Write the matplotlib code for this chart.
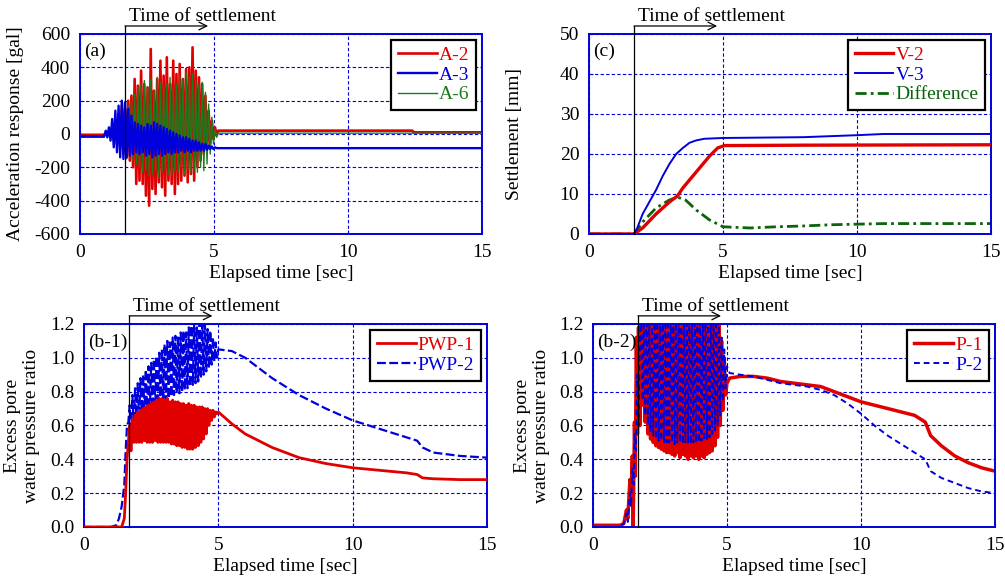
"""
plot.py

Shaking table test: acceleration, settlement and excess pore water pressure.
"""

import numpy as np
import matplotlib
matplotlib.use("Agg")
import matplotlib.pyplot as plt

plt.rcParams["font.family"] = ["Liberation Serif", "DejaVu Serif"]
plt.rcParams["axes.unicode_minus"] = False
plt.rcParams["font.size"] = 14

RED = "#e00000"
BLUE = "#0000dd"
GREEN = "#1c7a1c"
DKGREEN = "#0b640b"

T_SETTLE = 1.68
T_ARROW = 4.78

# ==========================================================
# Data
# ==========================================================

# --- (a) acceleration response [gal], peaks per cycle ---
a_cyc_t = [0.96, 1.08, 1.20, 1.32, 1.44, 1.56, 1.68, 1.80, 1.92, 2.04,
           2.16, 2.28, 2.40, 2.52, 2.64, 2.76, 2.88, 3.00, 3.12, 3.24,
           3.36, 3.48, 3.60, 3.72, 3.84, 3.96, 4.08, 4.20, 4.32, 4.44,
           4.56, 4.68, 4.80, 4.92, 5.04]

a2_hi = [5, 15, 30, 60, 120, 170, 150, 200, 230, 330,
         290, 380, 300, 280, 510, 260, 330, 440, 350, 460,
         300, 440, 360, 420, 330, 390, 400, 520, 380, 340,
         300, 230, 140, 80, 40]
a2_lo = [-5, -15, -30, -60, -90, -120, -140, -160, -200, -300,
         -280, -300, -370, -430, -330, -360, -290, -320, -370, -280,
         -300, -360, -300, -280, -250, -290, -240, -280, -200, -160,
         -120, -90, -60, -30, -10]

a3_hi = [20, 40, 90, 140, 170, 200, 190, 150, 110, 70,
         60, 50, 40, 60, 50, 70, 60, 50, 40, 30,
         20, 10, 0, -10, -20, -20, -30, -40, -40, -50,
         -60, -60, -70, -75, -80]
a3_lo = [-20, -40, -80, -110, -140, -150, -140, -130, -120, -110,
         -120, -110, -130, -120, -140, -130, -120, -130, -120, -110,
         -120, -110, -110, -100, -110, -100, -110, -100, -100, -100,
         -100, -95, -90, -90, -85]

a6_hi = [5, 20, 40, 70, 100, 130, 150, 170, 200, 240,
         280, 300, 320, 280, 330, 250, 340, 310, 280, 300,
         340, 270, 300, 350, 330, 370, 340, 360, 320, 300,
         310, 250, 180, 100, 30]
a6_lo = [-5, -20, -40, -70, -100, -130, -150, -140, -160, -180,
         -200, -230, -220, -250, -240, -220, -260, -230, -210, -240,
         -250, -220, -230, -200, -240, -210, -230, -220, -230, -200,
         -220, -180, -120, -60, -20]

a_head_t = [0.0, 0.9]
a2_head = [-5, -5]
a3_head = [-15, -15]
a6_head = [-20, -20]

a2_tail_t = [5.15, 12.4, 12.45, 15.0]
a2_tail = [20, 20, 10, 10]
a3_tail_t = [5.15, 15.0]
a3_tail = [-85, -85]
a6_tail_t = [5.15, 15.0]
a6_tail = [5, 5]

# --- (c) settlement [mm] ---
v2_t = [0, 1.68, 2.0, 2.5, 3.0, 3.3, 3.5, 4.0, 4.5, 4.8, 5.05, 8.0, 15.0]
v2_v = [0, 0, 1.5, 5.0, 8.0, 9.5, 11.5, 15.5, 19.5, 21.5, 22.1, 22.2, 22.3]

v3_t = [0, 1.68, 1.8, 2.0, 2.25, 2.5, 2.75, 3.0, 3.25, 3.5, 3.75, 4.0,
        4.3, 5.0, 8.0, 10.0, 11.0, 15.0]
v3_v = [0, 0, 1.5, 5.0, 8.0, 11.0, 14.5, 17.5, 20.0, 21.5, 22.8, 23.4,
        23.8, 24.0, 24.2, 24.7, 25.0, 25.0]

diff_t = [0, 1.68, 2.0, 2.5, 3.0, 3.3, 3.6, 4.0, 4.5, 5.0, 6.0, 7.0,
          8.0, 9.0, 11.0, 15.0]
diff_v = [0, 0, 3.0, 6.5, 8.5, 9.2, 8.5, 6.0, 3.5, 1.8, 1.5, 1.8,
          2.0, 2.3, 2.6, 2.6]

# --- (b-1) excess pore water pressure ratio ---
b1_cyc_t = [1.7, 1.8, 1.9, 2.0, 2.1, 2.2, 2.3, 2.4, 2.5, 2.6,
            2.7, 2.8, 2.9, 3.0, 3.1, 3.2, 3.3, 3.4, 3.5, 3.6,
            3.7, 3.8, 3.9, 4.0, 4.1, 4.2, 4.3, 4.4, 4.5, 4.6,
            4.7, 4.8, 4.9]

pwp1_hi = [0.60, 0.64, 0.66, 0.68, 0.69, 0.70, 0.71, 0.72, 0.73, 0.74,
           0.75, 0.76, 0.76, 0.75, 0.76, 0.74, 0.75, 0.74, 0.74, 0.73,
           0.73, 0.72, 0.73, 0.72, 0.72, 0.71, 0.71, 0.71, 0.70, 0.70,
           0.69, 0.69, 0.68]
pwp1_lo = [0.45, 0.50, 0.50, 0.50, 0.50, 0.51, 0.50, 0.50, 0.50, 0.51,
           0.50, 0.50, 0.50, 0.50, 0.50, 0.49, 0.49, 0.48, 0.48, 0.47,
           0.47, 0.46, 0.46, 0.46, 0.47, 0.48, 0.50, 0.52, 0.55, 0.60,
           0.63, 0.65, 0.67]

pwp2_hi = [0.72, 0.78, 0.82, 0.85, 0.88, 0.90, 0.93, 0.95, 0.97, 0.99,
           1.01, 1.03, 1.05, 1.08, 1.10, 1.09, 1.12, 1.13, 1.12, 1.15,
           1.16, 1.15, 1.18, 1.19, 1.20, 1.18, 1.21, 1.22, 1.20, 1.17,
           1.16, 1.12, 1.09]
pwp2_lo = [0.55, 0.60, 0.62, 0.63, 0.65, 0.66, 0.67, 0.68, 0.70, 0.71,
           0.72, 0.73, 0.74, 0.75, 0.76, 0.77, 0.78, 0.79, 0.79, 0.80,
           0.81, 0.82, 0.83, 0.84, 0.85, 0.86, 0.88, 0.90, 0.92, 0.94,
           0.96, 0.98, 1.00]

pwp1_head_t = [0, 1.2, 1.4, 1.5, 1.55, 1.6, 1.65]
pwp1_head = [0, 0, 0.0, 0.05, 0.2, 0.4, 0.5]
pwp2_head_t = [0, 1.0, 1.2, 1.3, 1.4, 1.5, 1.55, 1.6, 1.65]
pwp2_head = [0, 0, 0.01, 0.05, 0.12, 0.25, 0.45, 0.6, 0.62]

b1_tail_t = [5.0, 5.5, 6.0, 7.0, 8.0, 9.0, 10.0, 11.0, 12.0, 12.4,
             12.6, 13.0, 14.0, 15.0]
pwp1_tail = [0.68, 0.61, 0.55, 0.47, 0.41, 0.375, 0.35, 0.335, 0.32, 0.31,
             0.29, 0.285, 0.28, 0.28]
pwp2_tail = [1.05, 1.04, 1.00, 0.88, 0.78, 0.70, 0.63, 0.58, 0.53, 0.51,
             0.47, 0.44, 0.42, 0.41]

# --- (b-2) excess pore water pressure ratio ---
b2_cyc_t = [1.8, 1.9, 2.0, 2.1, 2.2, 2.3, 2.4, 2.5, 2.6, 2.7,
            2.8, 2.9, 3.0, 3.1, 3.2, 3.3, 3.4, 3.5, 3.6, 3.7,
            3.8, 3.9, 4.0, 4.1, 4.2, 4.3, 4.4, 4.5, 4.6, 4.7,
            4.8, 4.9]

p1_hi = [1.25, 1.28, 1.25, 1.30, 1.24, 1.27, 1.25, 1.30, 1.26, 1.25,
         1.28, 1.25, 1.30, 1.24, 1.27, 1.25, 1.30, 1.26, 1.25, 1.28,
         1.25, 1.30, 1.24, 1.27, 1.25, 1.30, 1.26, 1.25, 1.24, 1.21,
         1.10, 1.00]
p1_lo = [0.72, 0.62, 0.55, 0.52, 0.50, 0.48, 0.47, 0.46, 0.45, 0.44,
         0.44, 0.43, 0.42, 0.44, 0.41, 0.43, 0.42, 0.40, 0.42, 0.41,
         0.42, 0.40, 0.42, 0.41, 0.43, 0.44, 0.45, 0.48, 0.53, 0.60,
         0.69, 0.78]

p2_hi = [1.26, 1.25, 1.29, 1.25, 1.27, 1.24, 1.30, 1.25, 1.26, 1.28,
         1.25, 1.29, 1.25, 1.27, 1.24, 1.30, 1.25, 1.26, 1.28, 1.25,
         1.29, 1.25, 1.27, 1.24, 1.30, 1.25, 1.26, 1.28, 1.25, 1.22,
         1.12, 1.05]
p2_lo = [0.75, 0.66, 0.60, 0.56, 0.54, 0.52, 0.51, 0.51, 0.50, 0.50,
         0.50, 0.50, 0.49, 0.50, 0.50, 0.49, 0.50, 0.50, 0.49, 0.50,
         0.50, 0.50, 0.51, 0.51, 0.52, 0.53, 0.55, 0.57, 0.60, 0.66,
         0.74, 0.82]

p1_head_t = [0, 1.0, 1.15, 1.25, 1.3, 1.38, 1.42, 1.47, 1.5, 1.55,
             1.58, 1.62, 1.66, 1.70, 1.75]
p1_head = [0.01, 0.01, 0.02, 0.10, 0.05, 0.28, 0.15, 0.42, 0.0, 0.62,
           0.30, 1.12, 0.55, 1.18, 0.60]
p2_head_t = [0, 1.0, 1.15, 1.25, 1.3, 1.38, 1.42, 1.47, 1.52, 1.56,
             1.6, 1.65, 1.70, 1.75]
p2_head = [0.0, 0.0, 0.02, 0.08, 0.03, 0.20, 0.12, 0.35, 0.25, 0.55,
           0.45, 0.90, 0.60, 1.10]

b2_tail_t = [5.0, 5.1, 5.5, 6.0, 6.5, 7.0, 7.5, 8.0, 8.5, 9.0,
             9.5, 10.0, 10.5, 11.0, 11.5, 12.0, 12.4, 12.6, 13.0, 13.5,
             14.0, 14.5, 15.0]
p1_tail = [0.85, 0.88, 0.89, 0.89, 0.88, 0.86, 0.85, 0.84, 0.83, 0.80,
           0.77, 0.74, 0.72, 0.70, 0.68, 0.66, 0.62, 0.54, 0.48, 0.42,
           0.38, 0.35, 0.33]
p2_tail = [0.95, 0.91, 0.90, 0.89, 0.87, 0.85, 0.84, 0.83, 0.81, 0.78,
           0.73, 0.67, 0.60, 0.54, 0.49, 0.44, 0.40, 0.33, 0.29, 0.26,
           0.23, 0.21, 0.20]


# ==========================================================
# Helpers
# ==========================================================

def record(head_t, head_v, cyc_t, hi, lo, half, tail_t, tail_v):
    """Join the quiet start, the peak-to-peak cycles and the tail."""

    t = list(head_t)
    v = list(head_v)

    for tc, h, l in zip(cyc_t, hi, lo):
        t += [tc, tc + half]
        v += [h, l]

    t += list(tail_t)
    v += list(tail_v)

    return np.array(t), np.array(v)


def style_axes(ax, ylim, yticks, yfmt, ylabel, label_x, panel, panel_y):
    """Frame, grid, ticks, labels and the settlement marker."""

    ax.set_xlim(0, 15)
    ax.set_xticks([0, 5, 10, 15])
    ax.set_ylim(*ylim)
    ax.set_yticks(yticks)
    ax.set_yticklabels([yfmt.format(y) for y in yticks])

    for spine in ax.spines.values():
        spine.set_color(BLUE)
        spine.set_linewidth(1.4)

    ax.grid(True, color=BLUE, linestyle=(0, (3, 2)), linewidth=0.8)
    ax.set_axisbelow(True)

    ax.tick_params(direction="in", length=3, color=BLUE, pad=7)

    ax.set_xlabel("Elapsed time [sec]", labelpad=3)
    ax.set_ylabel(ylabel, linespacing=1.15)
    ax.yaxis.set_label_coords(label_x, 0.5)

    ax.text(0.01, panel_y, panel, transform=ax.transAxes,
            ha="left", va="center")

    # Time of settlement marker
    tr = ax.get_xaxis_transform()

    ax.plot([T_SETTLE, T_SETTLE], [0, 1.04], transform=tr,
            color="k", lw=0.9, clip_on=False, zorder=6)

    ax.annotate("", xy=(T_ARROW, 1.04), xytext=(T_SETTLE, 1.04),
                xycoords=tr, textcoords=tr, annotation_clip=False,
                arrowprops=dict(arrowstyle="->", color="k", lw=0.9,
                                shrinkA=0, shrinkB=0, mutation_scale=14))

    ax.text(T_SETTLE + 0.15, 1.045, "Time of settlement",
            transform=tr, ha="left", va="bottom")


def add_legend(ax, handles):
    """Boxed legend with labels coloured like their lines."""

    leg = ax.legend(handles=handles, loc="upper right", frameon=True,
                    fancybox=False, edgecolor="k", framealpha=1,
                    borderaxespad=0.3, handlelength=2.0,
                    handletextpad=0.1, labelspacing=0.1, borderpad=0.35)
    leg.get_frame().set_linewidth(1.6)

    for text, line in zip(leg.get_texts(), leg.get_lines()):
        text.set_color(line.get_color())


# ==========================================================
# Figure
# ==========================================================

fig = plt.figure(figsize=(10.05, 5.77), dpi=100)

ax_a = fig.add_axes([0.0796, 0.5945, 0.400, 0.3466])
ax_c = fig.add_axes([0.5861, 0.5945, 0.400, 0.3466])
ax_b1 = fig.add_axes([0.0836, 0.0867, 0.401, 0.3518])
ax_b2 = fig.add_axes([0.5900, 0.0867, 0.400, 0.3518])

# --- (a) ---
t, v = record(a_head_t, a2_head, a_cyc_t, a2_hi, a2_lo, 0.06,
              a2_tail_t, a2_tail)
l2, = ax_a.plot(t, v, color=RED, lw=1.9, label="A-2", zorder=2)

t, v = record(a_head_t, a6_head, a_cyc_t, a6_hi, a6_lo, 0.06,
              a6_tail_t, a6_tail)
l6, = ax_a.plot(t, v, color=GREEN, lw=1.0, label="A-6", zorder=3)

t, v = record(a_head_t, a3_head, a_cyc_t, a3_hi, a3_lo, 0.06,
              a3_tail_t, a3_tail)
l3, = ax_a.plot(t, v, color=BLUE, lw=1.7, label="A-3", zorder=4)

style_axes(ax_a, (-600, 600), list(range(-600, 601, 200)), "{:d}",
           "Acceleration response [gal]", -0.14, "(a)", 0.915)
add_legend(ax_a, [l2, l3, l6])

# --- (c) ---
lv2, = ax_c.plot(v2_t, v2_v, color=RED, lw=2.4, label="V-2", zorder=3)
lv3, = ax_c.plot(v3_t, v3_v, color=BLUE, lw=1.4, label="V-3", zorder=4)
ld, = ax_c.plot(diff_t, diff_v, color=DKGREEN, lw=2.0,
                linestyle=(0, (4, 1.5, 1, 1.5)), label="Difference",
                zorder=2)

style_axes(ax_c, (0, 50), list(range(0, 51, 10)), "{:d}",
           "Settlement [mm]", -0.165, "(c)", 0.915)
add_legend(ax_c, [lv2, lv3, ld])

# --- (b-1) ---
t, v = record(pwp2_head_t, pwp2_head, b1_cyc_t, pwp2_hi, pwp2_lo, 0.05,
              b1_tail_t, pwp2_tail)
lp2, = ax_b1.plot(t, v, color=BLUE, lw=1.6, linestyle=(0, (4, 1.5)),
                  label="PWP-2", zorder=2)

t, v = record(pwp1_head_t, pwp1_head, b1_cyc_t, pwp1_hi, pwp1_lo, 0.05,
              b1_tail_t, pwp1_tail)
lp1, = ax_b1.plot(t, v, color=RED, lw=2.0, label="PWP-1", zorder=3)

ylabel_b = "Excess pore\nwater pressure ratio"
style_axes(ax_b1, (0, 1.2), [0.0, 0.2, 0.4, 0.6, 0.8, 1.0, 1.2], "{:.1f}",
           ylabel_b, -0.11, "(b-1)", 0.91)
add_legend(ax_b1, [lp1, lp2])

# --- (b-2) ---
t, v = record(p1_head_t, p1_head, b2_cyc_t, p1_hi, p1_lo, 0.05,
              b2_tail_t, p1_tail)
lq1, = ax_b2.plot(t, v, color=RED, lw=2.5, label="P-1", zorder=2)

t, v = record(p2_head_t, p2_head, b2_cyc_t, p2_hi, p2_lo, 0.05,
              b2_tail_t, p2_tail)
lq2, = ax_b2.plot(t, v, color=BLUE, lw=1.4, linestyle=(0, (3, 2)),
                  label="P-2", zorder=3)

style_axes(ax_b2, (0, 1.2), [0.0, 0.2, 0.4, 0.6, 0.8, 1.0, 1.2], "{:.1f}",
           ylabel_b, -0.108, "(b-2)", 0.91)
add_legend(ax_b2, [lq1, lq2])

fig.savefig("out.png", dpi=100)
plt.close(fig)
